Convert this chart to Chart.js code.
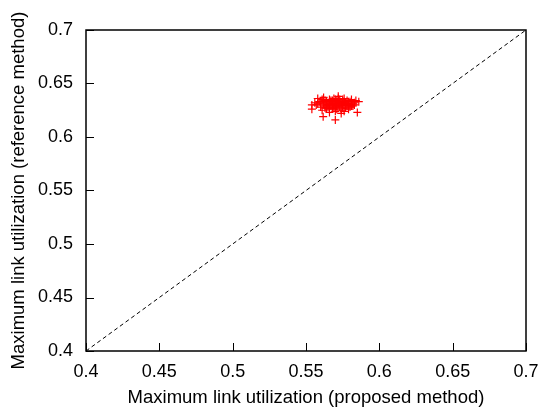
<!DOCTYPE html>
<html>
<head>
<meta charset="utf-8">
<script src="https://cdn.jsdelivr.net/npm/chart.js@4/dist/chart.umd.min.js"></script>
<style>
  html, body { margin: 0; padding: 0; background: #fff; }
  #wrap { width: 542px; height: 407px; }
</style>
</head>
<body>
<div id="wrap"><canvas id="chart"></canvas></div>
<script>
// Scatter samples (proposed method on x, reference method on y)
const proposedUtil = [
    0.557, 0.559, 0.560, 0.561, 0.562, 0.563, 0.563, 0.564, 0.565, 0.565,
    0.566, 0.566, 0.567, 0.567, 0.568, 0.568, 0.569, 0.569, 0.570, 0.570,
    0.571, 0.571, 0.572, 0.572, 0.573, 0.573, 0.574, 0.574, 0.575, 0.575,
    0.576, 0.576, 0.577, 0.577, 0.578, 0.578, 0.579, 0.579, 0.580, 0.580,
    0.581, 0.582, 0.583, 0.584, 0.586, 0.556, 0.558, 0.562, 0.572, 0.566,
    0.570, 0.574, 0.576, 0.561, 0.554, 0.5617, 0.570, 0.585, 0.554, 0.564,
    0.568, 0.571, 0.575, 0.579, 0.582, 0.560, 0.567, 0.573, 0.577, 0.569,
    0.558, 0.563, 0.566, 0.570, 0.573, 0.576, 0.580, 0.583, 0.565, 0.571,
    0.574, 0.578, 0.561, 0.568, 0.575, 0.581, 0.564, 0.572, 0.577, 0.569
];
const referenceUtil = [
    0.630, 0.633, 0.628, 0.635, 0.631, 0.627, 0.634, 0.630, 0.632, 0.628,
    0.635, 0.626, 0.631, 0.629, 0.633, 0.627, 0.630, 0.636, 0.632, 0.628,
    0.634, 0.626, 0.630, 0.632, 0.628, 0.635, 0.631, 0.625, 0.633, 0.629,
    0.630, 0.636, 0.627, 0.632, 0.634, 0.629, 0.631, 0.626, 0.633, 0.630,
    0.635, 0.631, 0.632, 0.634, 0.633, 0.632, 0.636, 0.637, 0.638, 0.623,
    0.624, 0.622, 0.624, 0.625, 0.626, 0.619, 0.616, 0.623, 0.630, 0.633,
    0.631, 0.629, 0.627, 0.633, 0.629, 0.632, 0.634, 0.633, 0.630, 0.631,
    0.631, 0.629, 0.633, 0.635, 0.631, 0.633, 0.628, 0.630, 0.630, 0.629,
    0.632, 0.631, 0.633, 0.634, 0.635, 0.629, 0.627, 0.636, 0.630, 0.627
];

// y = x reference diagonal
const diagX = [0.4, 0.7];
const diagY = [0.4, 0.7];

const tickValues = [0.4, 0.45, 0.5, 0.55, 0.6, 0.65, 0.7];
const xTitle = 'Maximum link utilization (proposed method)';
const yTitle = 'Maximum link utilization (reference method)';

const FONT = "'Liberation Sans', Arial, Helvetica, sans-serif";

// Box frame + inward ticks, gnuplot style
const framePlugin = {
    id: 'frame',
    afterDraw(chart) {
        const { ctx, chartArea: a, scales } = chart;
        ctx.save();
        ctx.strokeStyle = '#000';
        ctx.lineWidth = 1.5;
        ctx.strokeRect(a.left, a.top, a.right - a.left, a.bottom - a.top);
        ctx.lineWidth = 1;
        ctx.beginPath();
        tickValues.forEach(v => {
            const px = Math.round(scales.x.getPixelForValue(v)) + 0.5;
            ctx.moveTo(px, a.bottom);
            ctx.lineTo(px, a.bottom - 8);
            const py = Math.round(scales.y.getPixelForValue(v)) + 0.5;
            ctx.moveTo(a.left, py);
            ctx.lineTo(a.left + 8, py);
        });
        ctx.stroke();
        ctx.restore();
    }
};

new Chart(document.getElementById('chart').getContext('2d'), {
    type: 'scatter',
    data: {
        datasets: [{
            type: 'line',
            data: diagX.map((x, i) => ({ x: x, y: diagY[i] })),
            borderColor: '#000',
            borderWidth: 1,
            borderDash: [4, 3],
            pointRadius: 0,
            fill: false
        }, {
            data: proposedUtil.map((x, i) => ({ x: x, y: referenceUtil[i] })),
            pointStyle: 'cross',
            pointRadius: 4,
            borderColor: '#ff0000',
            backgroundColor: '#ff0000',
            borderWidth: 1.2
        }]
    },
    options: {
        responsive: true,
        maintainAspectRatio: false,
        animation: false,
        layout: {
            padding: { left: 0, right: 16, top: 30, bottom: 0 }
        },
        plugins: {
            legend: { display: false },
            tooltip: { enabled: false }
        },
        scales: {
            x: {
                type: 'linear',
                min: 0.4,
                max: 0.7,
                afterBuildTicks: scale => { scale.ticks = tickValues.map(v => ({ value: v })); },
                afterFit: scale => {
                    scale.height = 56;
                    scale.paddingLeft = 0;
                    scale.paddingRight = 0;
                },
                grid: { display: false, drawTicks: false },
                border: { display: false },
                ticks: {
                    padding: 10,
                    color: '#000',
                    font: { family: FONT, size: 18 },
                    maxRotation: 0,
                    callback: v => String(Number(v.toFixed(2)))
                },
                title: {
                    display: true,
                    text: xTitle,
                    color: '#000',
                    font: { family: FONT, size: 18.5, lineHeight: 1 },
                    padding: { top: 0, bottom: 0 }
                }
            },
            y: {
                type: 'linear',
                min: 0.4,
                max: 0.7,
                afterBuildTicks: scale => { scale.ticks = tickValues.map(v => ({ value: v })); },
                afterFit: scale => {
                    scale.width = 86;
                    scale.paddingTop = 0;
                    scale.paddingBottom = 0;
                },
                grid: { display: false, drawTicks: false },
                border: { display: false },
                ticks: {
                    padding: 13,
                    color: '#000',
                    font: { family: FONT, size: 18 },
                    callback: v => String(Number(v.toFixed(2)))
                },
                title: {
                    display: true,
                    text: yTitle,
                    color: '#000',
                    font: { family: FONT, size: 18.5 },
                    padding: { top: 8, bottom: 0 }
                }
            }
        }
    },
    plugins: [framePlugin]
});
</script>
</body>
</html>
